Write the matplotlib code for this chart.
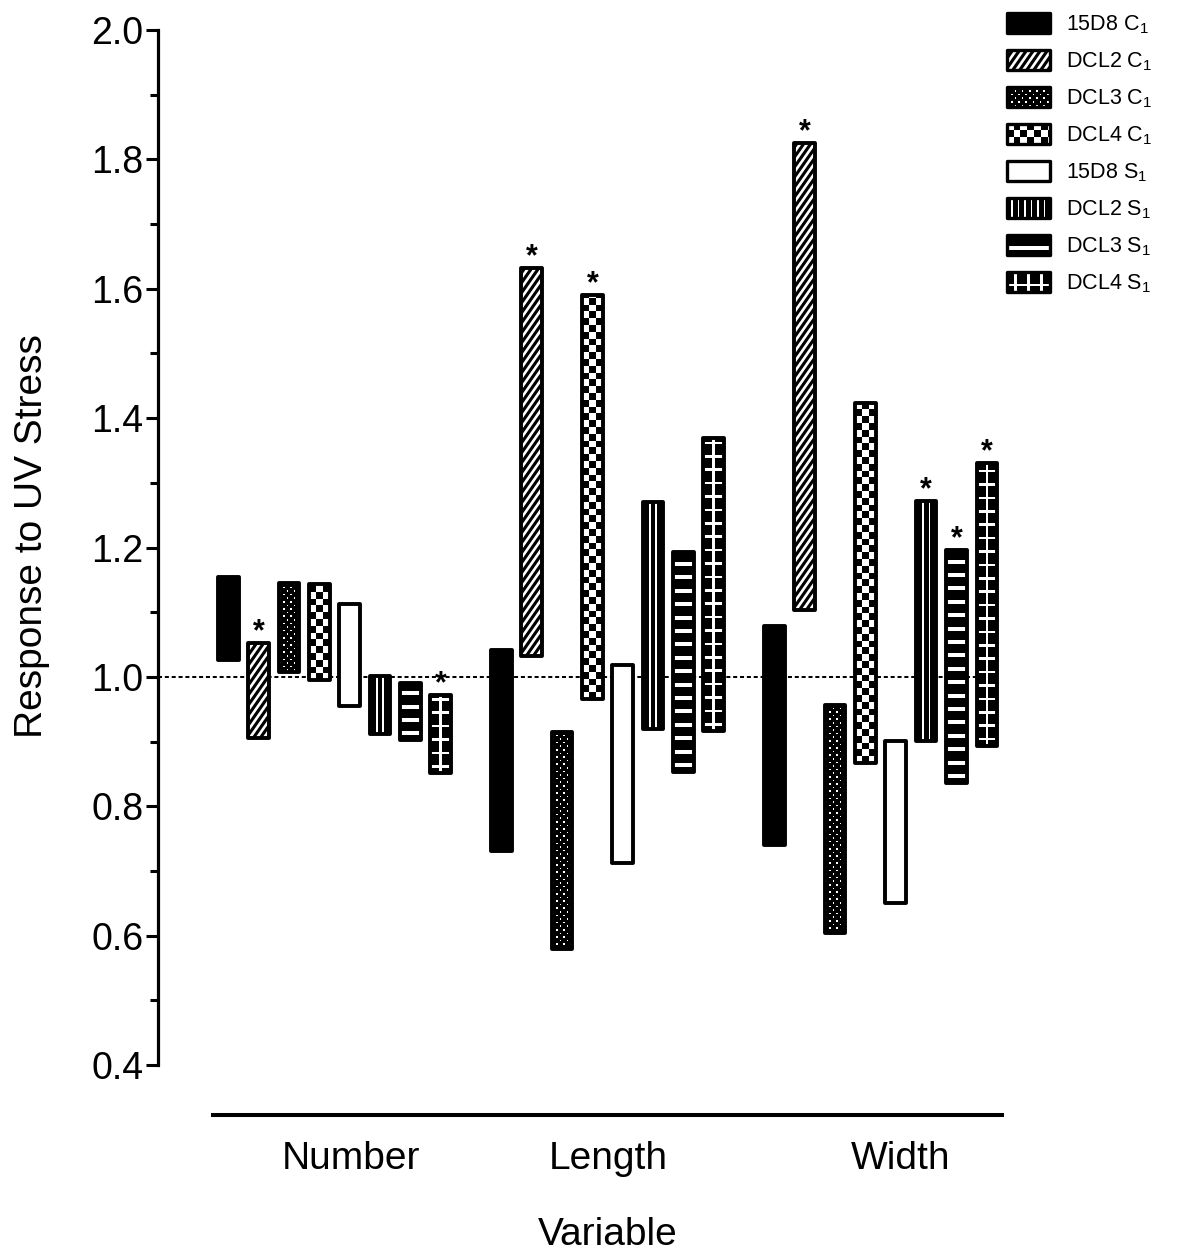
import numpy as np
import matplotlib
matplotlib.use("Agg")
import matplotlib.pyplot as plt
from matplotlib.patches import Rectangle, Polygon, Patch
from matplotlib.collections import PatchCollection
from matplotlib.legend_handler import HandlerBase
from matplotlib.ticker import MultipleLocator, FormatStrFormatter

plt.rcParams["font.family"] = ["Liberation Sans", "DejaVu Sans"]
plt.rcParams["mathtext.fontset"] = "custom"
plt.rcParams["mathtext.rm"] = "Liberation Sans"
plt.rcParams["mathtext.it"] = "Liberation Sans:italic"
plt.rcParams["mathtext.bf"] = "Liberation Sans:bold"

variables = ["Number", "Length", "Width"]
lines = ["15D8 C$_1$", "DCL2 C$_1$", "DCL3 C$_1$", "DCL4 C$_1$",
         "15D8 S$_1$", "DCL2 S$_1$", "DCL3 S$_1$", "DCL4 S$_1$"]

# upper / lower end of each response range, one entry per line
number_top = [1.154, 1.052, 1.145, 1.144, 1.113, 1.002, 0.991, 0.972]
number_bottom = [1.026, 0.905, 1.008, 0.995, 0.955, 0.912, 0.902, 0.851]
length_top = [1.042, 1.632, 0.915, 1.590, 1.018, 1.270, 1.193, 1.369]
length_bottom = [0.731, 1.032, 0.579, 0.966, 0.712, 0.919, 0.853, 0.916]
width_top = [1.079, 1.825, 0.957, 1.424, 0.901, 1.272, 1.196, 1.331]
width_bottom = [0.740, 1.103, 0.604, 0.867, 0.650, 0.901, 0.836, 0.893]

# significant responses get an asterisk
number_star = [0, 1, 0, 0, 0, 0, 0, 1]
length_star = [0, 1, 0, 1, 0, 0, 0, 0]
width_star = [0, 1, 0, 0, 0, 1, 1, 1]

# fill style for each line
patterns = ["solid", "diag", "dots", "checker", "open", "vlines", "hdash", "cross"]

group_start = np.array([0, 9, 18])
label_pos = [4.04, 12.54, 22.16]
bar_w = 0.68


def pattern_polys(kind, x0, y0, w, h, kx, ky):
    # white shapes drawn inside a black box; sizes are in pixels
    W, H = w * kx, h * ky
    polys = []

    def box(a, b, c, d):
        polys.append([(a, b), (c, b), (c, d), (a, d)])

    if kind == "diag":
        m = np.tan(np.radians(55))
        dv = 4.6
        for c in np.arange(-m * W - dv, H + 10, 10):
            polys.append([(0, c), (W, c + m * W), (W, c + m * W + dv), (0, c + dv)])
    elif kind == "dots":
        for j, y in enumerate(np.arange(1.5, H, 3.6)):
            for x in np.arange(1.5 + 3.6 * (j % 2), W, 7.2):
                box(x - 0.8, y - 0.8, x + 0.8, y + 0.8)
    elif kind == "checker":
        s = 6.8
        for i in range(int(np.ceil(W / s))):
            for j in range(int(np.ceil(H / s))):
                if (i + j) % 2 == 0:
                    box(i * s, j * s, (i + 1) * s, (j + 1) * s)
    elif kind == "vlines":
        for k in range(-8, 8):
            x = W / 2 + (k + 0.5) * 6.5
            box(x - 0.8, 0, x + 0.8, H)
    elif kind == "hdash":
        for y in np.arange(7, H, 13.4):
            box(0, y - 2, W, y + 2)
    elif kind == "cross":
        for k in range(-4, 5):
            x = W / 2 + k * 13
            box(x - 1.3, 0, x + 1.3, H)
        for y in np.arange(7, H, 13.4):
            box(0, y - 1.3, W, y + 1.3)
    return [Polygon([(x0 + px / kx, y0 + py / ky) for px, py in p]) for p in polys]


class PatternHandler(HandlerBase):
    def __init__(self, kind):
        super().__init__()
        self.kind = kind

    def create_artists(self, legend, orig_handle, xdescent, ydescent,
                       width, height, fontsize, trans):
        k = legend.figure.dpi / 72
        x0, y0 = -xdescent, -ydescent
        face = "white" if self.kind == "open" else "black"
        base = Rectangle((x0, y0), width, height, facecolor=face,
                         edgecolor="none", transform=trans)
        pats = PatchCollection(pattern_polys(self.kind, x0, y0, width, height, k, k),
                               facecolor="white", edgecolor="none", transform=trans)
        pats.set_clip_path(base)
        edge = Rectangle((x0, y0), width, height, fill=False, edgecolor="black",
                         linewidth=2.4, joinstyle="round", transform=trans)
        return [base, pats, edge]


fig = plt.figure(figsize=(11.83, 12.57), dpi=100)
ax = fig.add_axes([0.1801, 0.1527, 0.6669, 0.8234])
ax.set_xlim(-0.5, 25.5)
ax.set_ylim(0.4, 2.0)

p0 = ax.transData.transform((0, 0))
p1 = ax.transData.transform((1, 1))
kx, ky = p1 - p0

tops = np.array([number_top, length_top, width_top])
bottoms = np.array([number_bottom, length_bottom, width_bottom])
stars = np.array([number_star, length_star, width_star])

handles = []
handler_map = {}
for i, (line, kind) in enumerate(zip(lines, patterns)):
    xs = group_start + i
    top = tops[:, i]
    bot = bottoms[:, i]
    face = "white" if kind == "open" else "black"
    fills = ax.bar(xs, top - bot, bottom=bot, width=bar_w, color=face,
                   linewidth=0, zorder=2)
    for rect in fills:
        polys = pattern_polys(kind, rect.get_x(), rect.get_y(),
                              rect.get_width(), rect.get_height(), kx, ky)
        if polys:
            pc = PatchCollection(polys, facecolor="white", edgecolor="none", zorder=3)
            ax.add_collection(pc, autolim=False)
            pc.set_clip_path(rect)
    ax.bar(xs, top - bot, bottom=bot, width=bar_w, fill=False, edgecolor="black",
           linewidth=2.8, joinstyle="round", zorder=4)
    for x, t, s in zip(xs, top, stars[:, i]):
        if s:
            ax.annotate("*", (x, t), xytext=(0, 2), textcoords="offset points",
                        ha="center", va="baseline", fontsize=22, fontweight="bold")
    h = Patch(label=line)
    handles.append(h)
    handler_map[h] = PatternHandler(kind)

# reference line at no response
ax.axhline(1.0, xmin=-55 / 789, xmax=0.997, color="black", linewidth=1.45,
           linestyle=(0, (2, 1.4)), clip_on=False, zorder=1)

ax.spines["top"].set_visible(False)
ax.spines["right"].set_visible(False)
ax.spines["left"].set_position(("outward", 39.6))
ax.spines["left"].set_linewidth(2.3)
ax.spines["bottom"].set_position(("outward", 36))
ax.spines["bottom"].set_linewidth(2.9)

ax.yaxis.set_major_locator(MultipleLocator(0.2))
ax.yaxis.set_minor_locator(MultipleLocator(0.1))
ax.yaxis.set_major_formatter(FormatStrFormatter("%.1f"))
ax.tick_params(axis="y", which="major", length=8.6, width=2.2, labelsize=27, pad=2)
ax.tick_params(axis="y", which="minor", length=5.8, width=2.2)

ax.set_xticks(label_pos, variables)
ax.tick_params(axis="x", length=0, pad=18.5, labelsize=28)
ax.set_xlabel("Variable", fontsize=28, labelpad=29)
ax.set_ylabel("Response to UV Stress", fontsize=28)
ax.yaxis.set_label_coords(-0.207, 0.511)

ax.legend(handles=handles, handler_map=handler_map, loc="upper left",
          bbox_to_anchor=(0.851, 0.99), bbox_transform=fig.transFigure,
          frameon=False, fontsize=15.5, handlelength=2.0, handleheight=1.07,
          handletextpad=0.75, labelspacing=0.65, borderpad=0, borderaxespad=0)

fig.savefig("out.png", dpi=100)
